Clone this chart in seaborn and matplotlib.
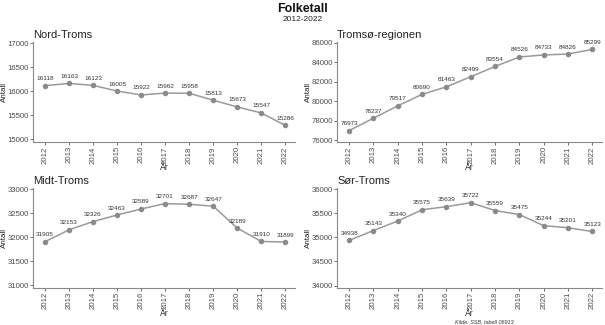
import matplotlib
matplotlib.use("Agg")
import matplotlib.pyplot as plt
import seaborn as sns
import pandas as pd

years = [2012, 2013, 2014, 2015, 2016, 2017, 2018, 2019, 2020, 2021, 2022]
nord_troms = [16118, 16163, 16123, 16005, 15922, 15962, 15958, 15813, 15673, 15547, 15286]
tromso_regionen = [76973, 78237, 79517, 80690, 81463, 82499, 83554, 84526, 84733, 84826, 85299]
midt_troms = [31905, 32153, 32326, 32463, 32589, 32701, 32687, 32647, 32189, 31910, 31899]
sor_troms = [34938, 35143, 35340, 35575, 35639, 35722, 35559, 35475, 35244, 35201, 35123]

regions = ["Nord-Troms", "Tromsø-regionen", "Midt-Troms", "Sør-Troms"]
series = [nord_troms, tromso_regionen, midt_troms, sor_troms]
y_ticks = [
    [15000, 15500, 16000, 16500, 17000],
    [76000, 78000, 80000, 82000, 84000, 86000],
    [31000, 31500, 32000, 32500, 33000],
    [34000, 34500, 35000, 35500, 36000],
]
y_limits = [(14940, 17030), (75800, 86070), (30940, 33030), (33950, 36030)]

sns.set_theme(style="ticks")
plt.rcParams["font.family"] = ["Liberation Sans", "DejaVu Sans"]

fig = plt.figure(figsize=(6.05, 3.25), dpi=100)

# axes boxes: [left, bottom, width, height] in figure fraction
boxes = [
    [0.0545, 0.563, 0.433, 0.308],
    [0.557, 0.563, 0.438, 0.308],
    [0.0545, 0.114, 0.433, 0.308],
    [0.557, 0.114, 0.438, 0.308],
]

axis_grey = "#888888"
for name, vals, box, ticks, lims in zip(regions, series, boxes, y_ticks, y_limits):
    ax = fig.add_axes(box)
    df = pd.DataFrame({"pos": range(len(years)), "Antall": vals})
    sns.lineplot(data=df, x="pos", y="Antall", ax=ax, color="#9a9a9a",
                 linewidth=1.1, marker="o", markersize=3.2,
                 markerfacecolor="#8a8a8a", markeredgecolor="#8a8a8a")
    span = lims[1] - lims[0]
    for i, v in enumerate(vals):
        ax.text(i, v + span * 0.045, str(v), ha="center", va="bottom",
                fontsize=4.6, color="#333333")
    ax.set_xlim(-0.5, len(years) - 0.6)
    ax.set_ylim(*lims)
    ax.set_yticks(ticks)
    ax.set_xticks(range(len(years)))
    ax.set_xticklabels([str(y) for y in years], rotation=90)
    ax.tick_params(axis="both", labelsize=5.6, colors="#555555", length=2,
                   width=0.6, pad=1)
    for lab in ax.get_xticklabels() + ax.get_yticklabels():
        lab.set_color("#4d4d4d")
    for side in ("top", "right"):
        ax.spines[side].set_visible(False)
    for side in ("left", "bottom"):
        ax.spines[side].set_color(axis_grey)
        ax.spines[side].set_linewidth(0.8)
    ax.set_xlabel("År", fontsize=6.2, color="#222222")
    ax.set_ylabel("Antall", fontsize=5.8, color="#222222")
    ax.xaxis.set_label_coords(0.5, -0.255)
    ax.yaxis.set_label_coords(-0.109, 0.5)
    ax.xaxis.label.set_va("center")
    ax.yaxis.label.set_va("center")
    ax.set_title(name, loc="left", fontsize=8, color="#222222", pad=3)

fig.text(0.5, 0.99, "Folketall", ha="center", va="top", fontsize=9,
         fontweight="bold", color="#111111")
fig.text(0.5, 0.952, "2012-2022", ha="center", va="top", fontsize=6,
         color="#222222")
fig.text(0.8, 0.002, "Kilde: SSB, tabell 06913", ha="center", va="bottom",
         fontsize=4, style="italic", color="#333333")

fig.savefig("out.png", dpi=100)
